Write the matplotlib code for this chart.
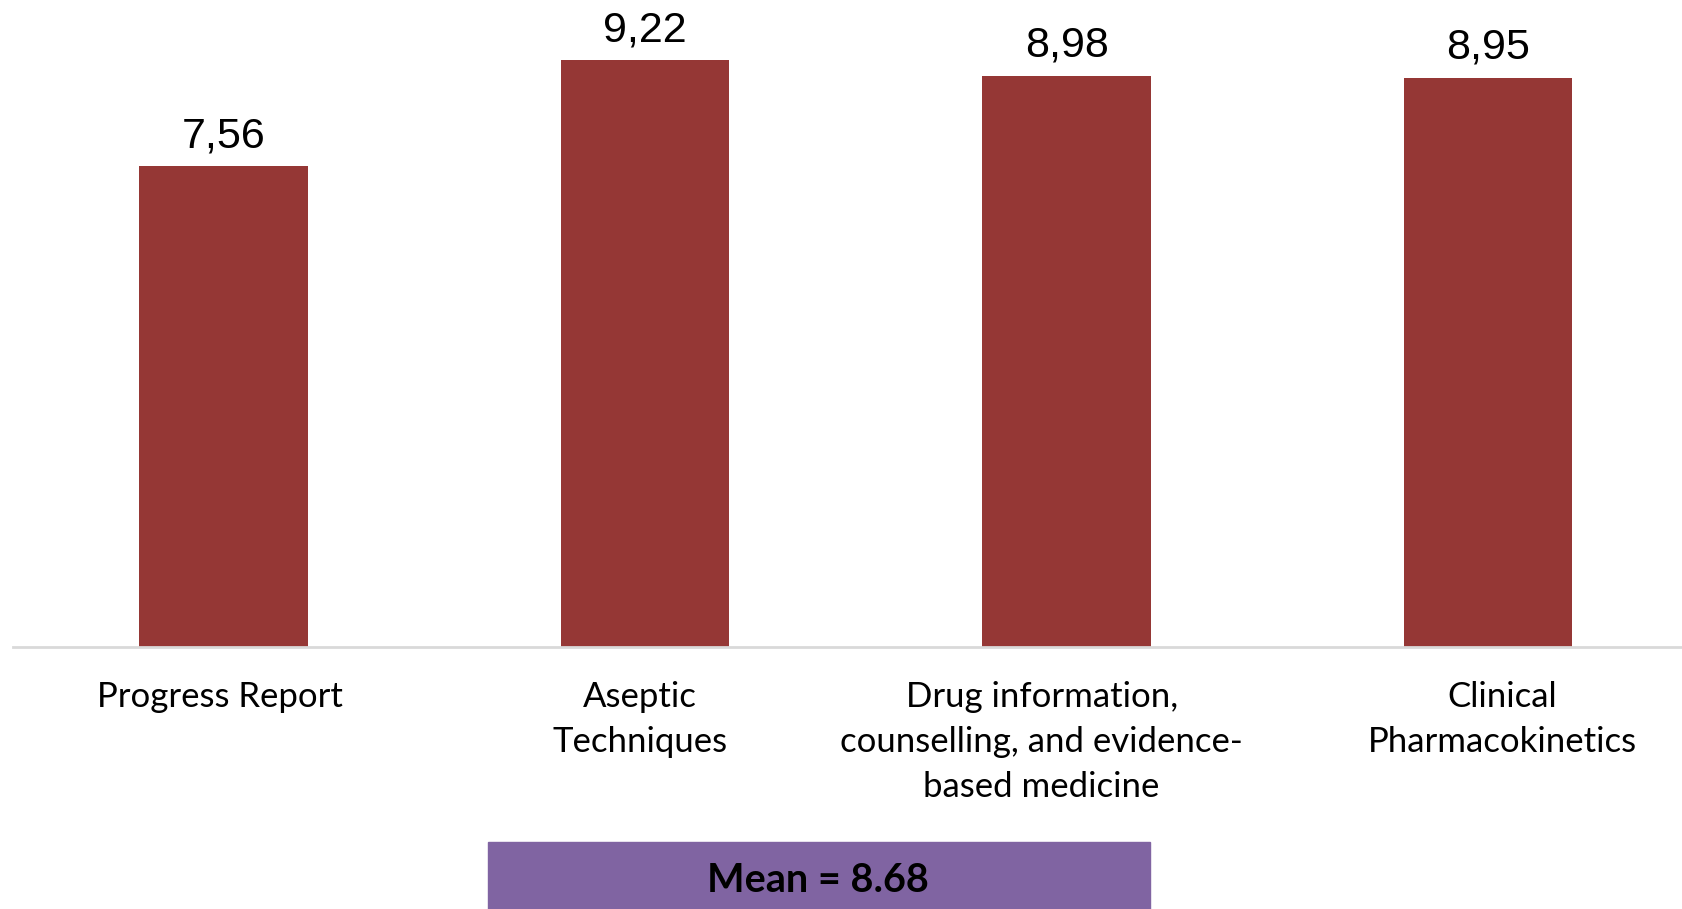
import matplotlib
matplotlib.use("Agg")
import matplotlib.pyplot as plt
from matplotlib.patches import Rectangle

categories = ["Progress Report", "Aseptic\nTechniques",
              "Drug information,\ncounselling, and evidence-\nbased medicine",
              "Clinical\nPharmacokinetics"]
values = [7.56, 9.22, 8.98, 8.95]
label_dx = [-4, -5, -25, 14]  # pixel nudges of category labels

mean_val = sum(values) / len(values)

BAR = "#953735"
PURPLE = "#8064A2"

fig = plt.figure(figsize=(16.82, 9.09), dpi=100)
ax = fig.add_axes([12.9 / 1682, 262 / 909, 1686 / 1682, 647 / 909])
x = list(range(len(values)))
ax.bar(x, values, width=0.4, color=BAR, zorder=2)
ax.set_xlim(-0.5, 3.5)
ax.set_ylim(0, 10.17)
for s in ["top", "right", "left"]:
    ax.spines[s].set_visible(False)
ax.spines["bottom"].set_color("#D9D9D9")
ax.spines["bottom"].set_linewidth(2)
ax.set_xticks([])
ax.set_yticks([])

for xi, v in zip(x, values):
    ax.annotate(f"{v:.2f}".replace(".", ","), xy=(xi, v), xytext=(0, 19),
                textcoords="offset pixels", ha="center", va="baseline",
                fontsize=31, family="Liberation Sans", color="black")

for xi, lab, dx in zip(x, categories, label_dx):
    ax.annotate(lab, xy=(xi, 0), xycoords=("data", "axes fraction"),
                xytext=(dx, -34), textcoords="offset pixels",
                ha="center", va="top", multialignment="center",
                fontsize=25, family="Lato", linespacing=1.5, color="black")

fig.patches.append(Rectangle((488 / 1682, 0), (1150 - 488) / 1682, 67 / 909,
                             transform=fig.transFigure, color=PURPLE, zorder=0))
fig.text(818 / 1682, 28 / 909, f"Mean = {mean_val:.2f}", ha="center", va="center",
         fontsize=28.5, fontweight="bold", family="Lato", color="black")

fig.savefig("out.png", dpi=100)
